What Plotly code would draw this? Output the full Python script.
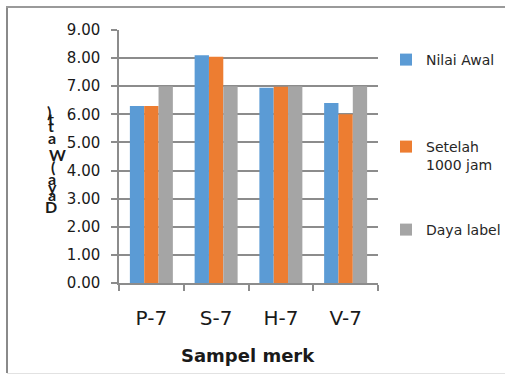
import plotly.graph_objects as go

# Lamp power measurements per brand sample
categories = ["P-7", "S-7", "H-7", "V-7"]
nilai_awal = [6.30, 8.10, 6.95, 6.40]
setelah_1000_jam = [6.30, 8.05, 6.98, 6.00]
daya_label = [7.00, 7.00, 7.00, 7.00]

series_names = ["Nilai Awal", "Setelah<br>1000 jam", "Daya label"]
series_colors = ["#5B9BD5", "#ED7D31", "#A5A5A5"]
y_ticks = [0, 1, 2, 3, 4, 5, 6, 7, 8, 9]
y_tick_text = [f"{v:.2f}" for v in y_ticks]
y_title = "Daya (Watt)"

FONT = "DejaVu Sans"
W, H = 505, 375
L, R, T, B = 119, 127, 30, 92
plot_w = W - L - R
plot_h = H - T - B


def px_x(px):
    return (px - L) / plot_w


def px_y(py):
    return (H - B - py) / plot_h


fig = go.Figure()
legend_ids = ["legend", "legend2", "legend3"]
for name, vals, color, lg in zip(series_names, [nilai_awal, setelah_1000_jam, daya_label],
                                 series_colors, legend_ids):
    fig.add_trace(go.Bar(x=categories, y=vals, name=name, marker_color=color,
                         marker_line_width=0, legend=lg, showlegend=True))

legend_common = dict(
    x=px_x(386), xanchor="left", yanchor="middle",
    font=dict(family=FONT, size=14, color="#262626"),
    bgcolor="rgba(0,0,0,0)", borderwidth=0, visible=True,
)

# vertical axis title drawn as stacked characters, bottom to top
title_chars = list(y_title.replace(" ", ""))
char_y = [206, 194, 186, 178, 166, 154, 137, 125, 119, 111]
char_x = [51, 52, 52, 52, 53, 57, 52, 51, 51, 49]
annotations = []
for ch, cy, cx in zip(title_chars, char_y, char_x):
    annotations.append(dict(
        text=ch, x=px_x(cx), y=px_y(cy), xref="paper", yref="paper",
        showarrow=False, xanchor="center", yanchor="middle",
        font=dict(family="Lato", size=16, color="#1a1a1a", weight="bold"),
    ))

annotations.append(dict(
    text="<b>Sampel merk</b>", x=px_x(248), y=px_y(355), xref="paper", yref="paper",
    showarrow=False, xanchor="center", yanchor="middle",
    font=dict(family=FONT, size=18, color="#1a1a1a"),
))

# outer chart frame
shapes = [
    dict(type="line", xref="paper", yref="paper", x0=px_x(7), x1=px_x(7),
         y0=px_y(7), y1=px_y(373), line=dict(color="#8a8a8a", width=2)),
    dict(type="line", xref="paper", yref="paper", x0=px_x(6), x1=px_x(506),
         y0=px_y(7), y1=px_y(7), line=dict(color="#9a9a9a", width=2)),
    dict(type="line", xref="paper", yref="paper", x0=px_x(7), x1=px_x(506),
         y0=px_y(373.5), y1=px_y(373.5), line=dict(color="#e2e2e2", width=1)),
]

fig.update_layout(
    width=W, height=H,
    margin=dict(l=L, r=R, t=T, b=B, autoexpand=False),
    paper_bgcolor="white", plot_bgcolor="white",
    barmode="group", bargap=0.336, bargroupgap=0,
    font=dict(family=FONT, color="#262626"),
    showlegend=True,
    legend=dict(y=px_y(60), **legend_common),
    legend2=dict(y=px_y(156), valign="top", **legend_common),
    legend3=dict(y=px_y(230), **legend_common),
    annotations=annotations,
    shapes=shapes,
)

fig.update_xaxes(
    type="category", tickson="boundaries", ticks="outside", ticklen=6,
    tickcolor="#8c8c8c", tickwidth=1.5,
    showline=True, linecolor="#8c8c8c", linewidth=1.5,
    showgrid=False, ticklabelstandoff=16,
    tickfont=dict(family=FONT, size=20, color="#1a1a1a"),
)
fig.update_yaxes(
    range=[0, 9], tickvals=y_ticks, ticktext=y_tick_text,
    ticks="outside", ticklen=6, tickcolor="#8c8c8c", tickwidth=1.5,
    showline=True, linecolor="#8c8c8c", linewidth=1.5,
    showgrid=True, gridcolor="#8c8c8c", gridwidth=1.5,
    zeroline=False, ticklabelstandoff=8,
    tickfont=dict(family=FONT, size=15, color="#1a1a1a"),
)

fig.write_html("out.html")
